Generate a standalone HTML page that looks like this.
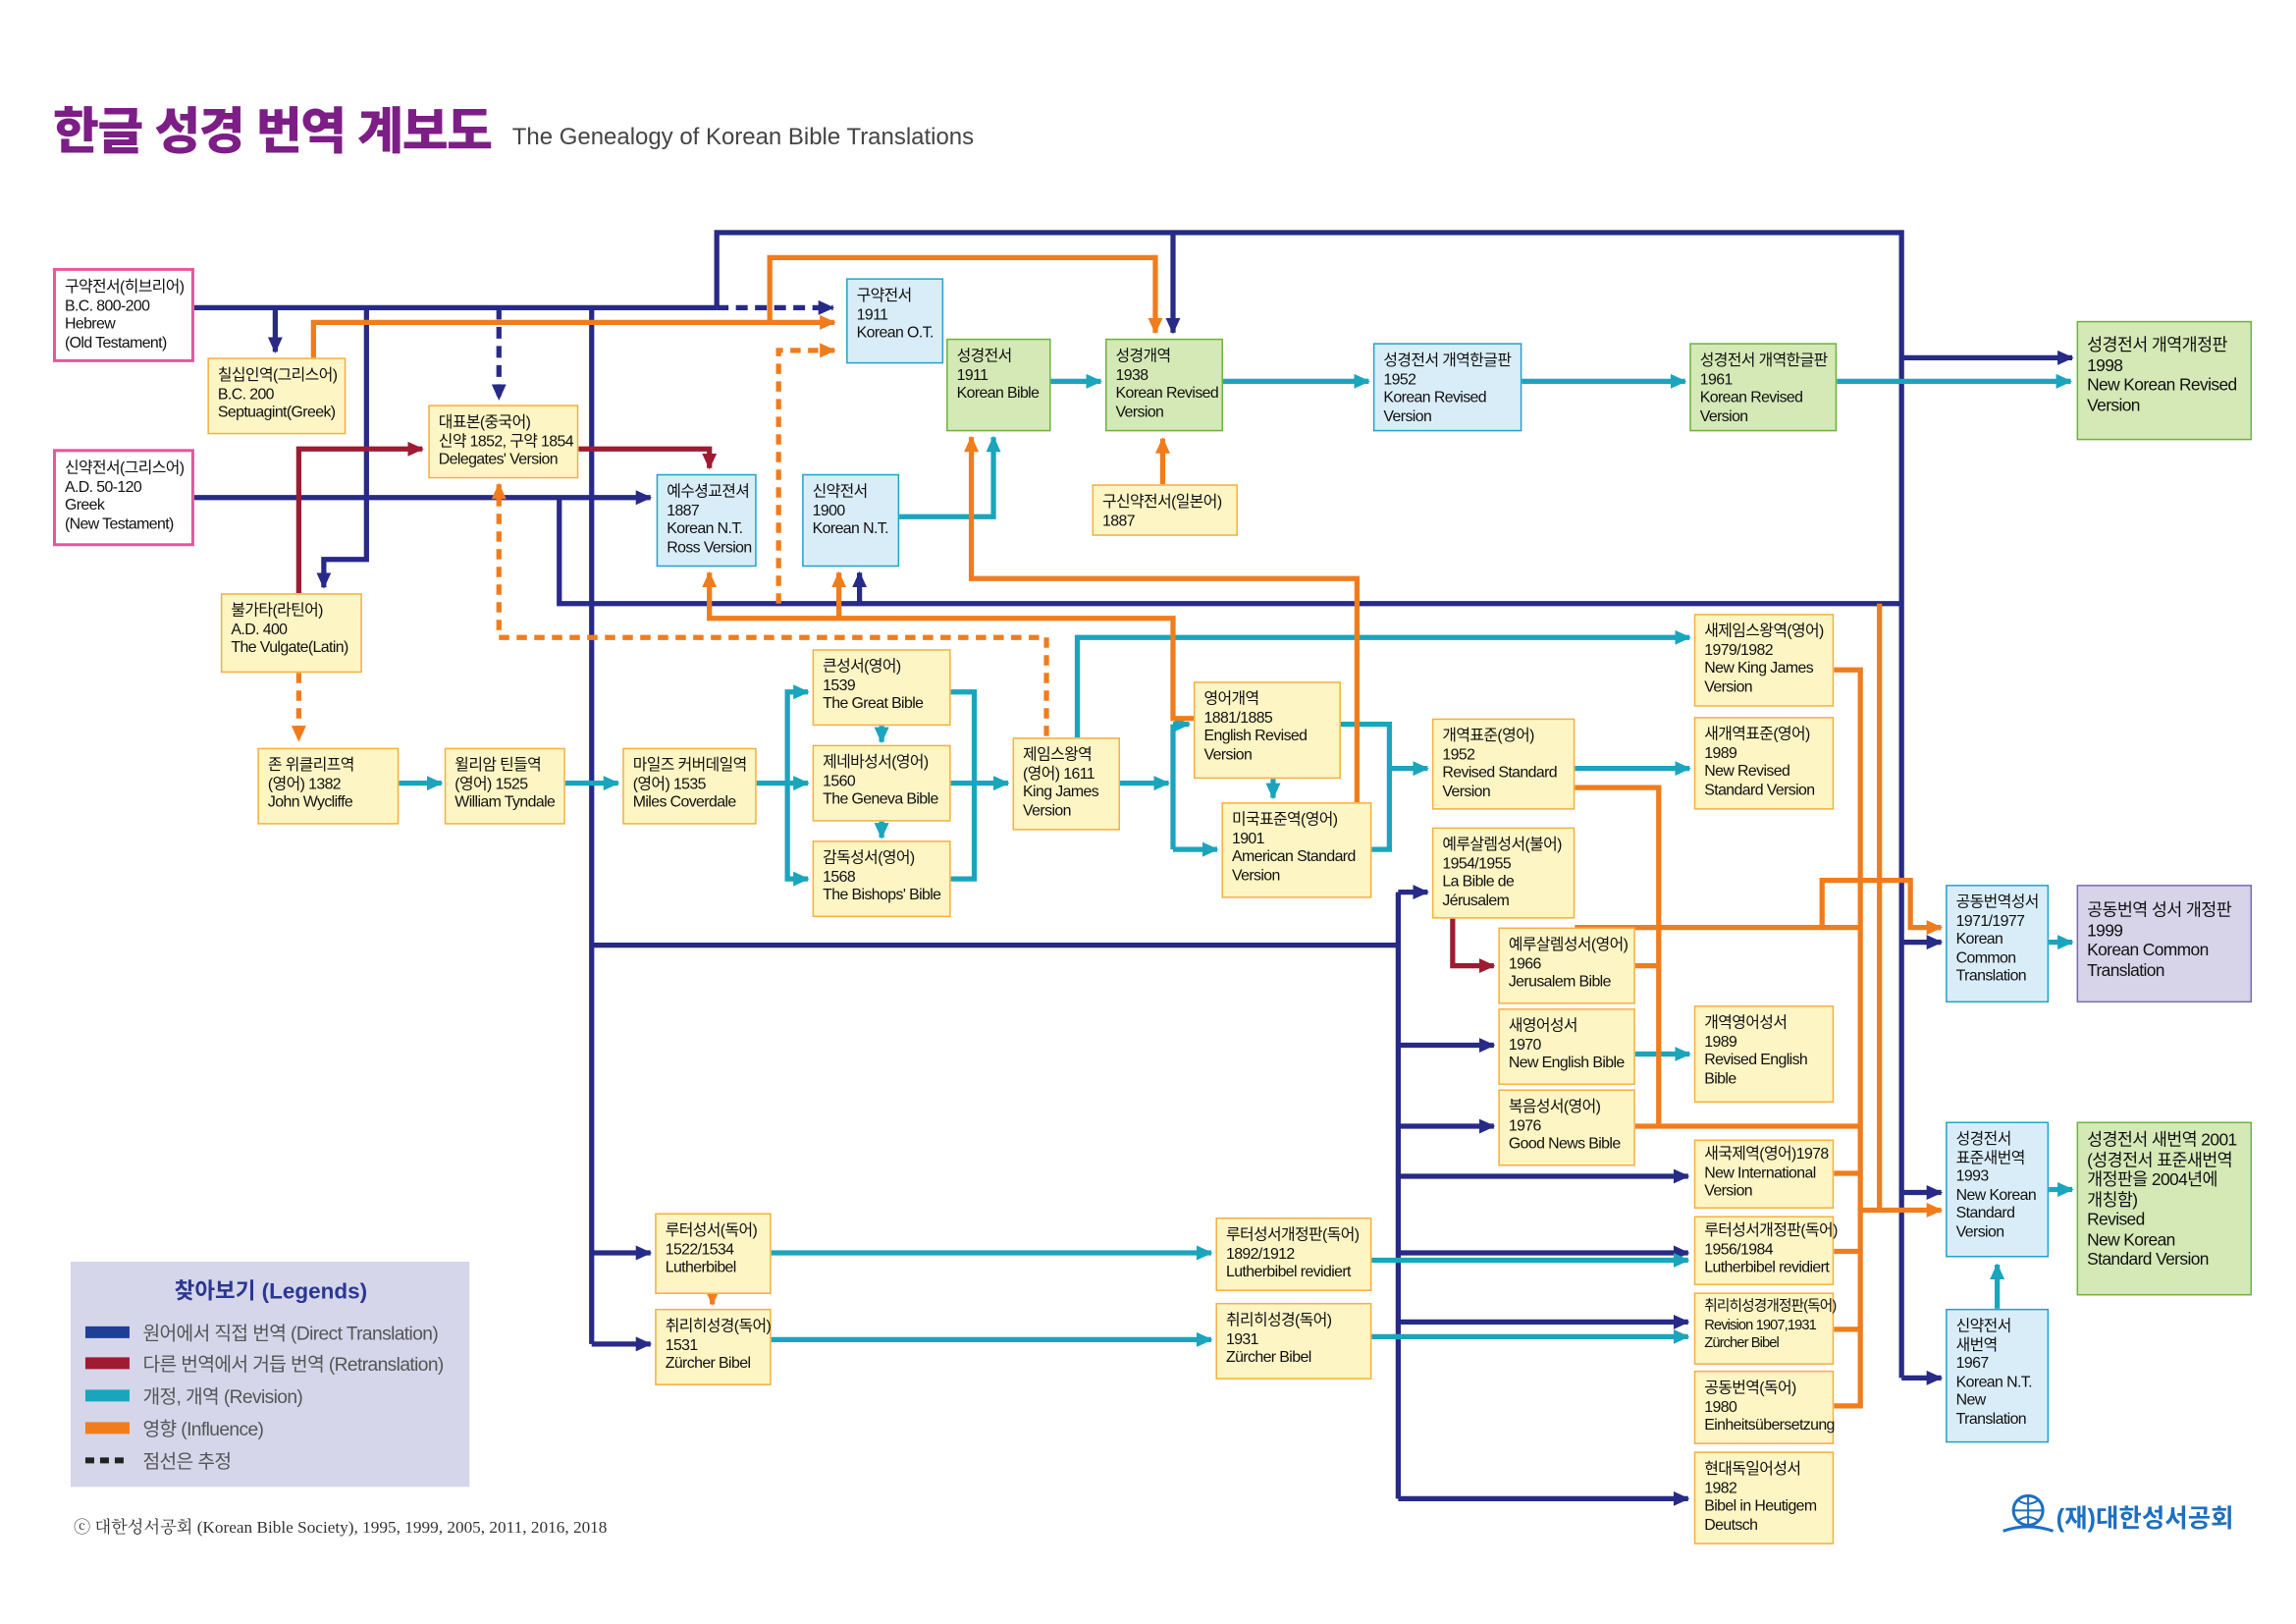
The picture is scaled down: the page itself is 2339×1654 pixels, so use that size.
<!DOCTYPE html>
<html><head><meta charset="utf-8">
<style>
html,body{margin:0;padding:0;background:#fff;}
#wrap{position:relative;width:1560px;height:1103px;transform:scale(1.49936);transform-origin:0 0;font-family:"Liberation Sans","Noto Sans CJK KR",sans-serif;}
svg{position:absolute;left:0;top:0;}
.b{position:absolute;box-sizing:border-box;border:1.5px solid;padding:5px 6px;font-size:10.6px;line-height:12.6px;letter-spacing:-0.4px;color:#111;white-space:nowrap;}
.y{background:#fdf5c4;border-color:#f5b040}
.bl{background:#d9edf9;border-color:#22a3c8}
.g{background:#d5e9b6;border-color:#6db33f}
.p{background:#d7d3e9;border-color:#7a6cb0}
.pk{background:#fff;border:2px solid #e8569b}
.big{font-size:11.6px;line-height:13.5px}
</style></head><body>
<div id="wrap">
<svg width="1560" height="1103" viewBox="0 0 1560 1103">
<defs>
<marker id="aN" markerUnits="userSpaceOnUse" markerWidth="12" markerHeight="12" refX="10" refY="6" orient="auto"><path d="M0,1 L11,6 L0,11 z" fill="#272a86"/></marker>
<marker id="aR" markerUnits="userSpaceOnUse" markerWidth="12" markerHeight="12" refX="10" refY="6" orient="auto"><path d="M0,1 L11,6 L0,11 z" fill="#9e1b32"/></marker>
<marker id="aT" markerUnits="userSpaceOnUse" markerWidth="12" markerHeight="12" refX="10" refY="6" orient="auto"><path d="M0,1 L11,6 L0,11 z" fill="#1aa5bd"/></marker>
<marker id="aO" markerUnits="userSpaceOnUse" markerWidth="12" markerHeight="12" refX="10" refY="6" orient="auto"><path d="M0,1 L11,6 L0,11 z" fill="#f07c1c"/></marker>
</defs>
<text x="36" y="101" font-family="Liberation Sans,Noto Sans CJK KR,sans-serif" font-size="34" font-weight="900" fill="#7d1e86" letter-spacing="-1">한글 성경 번역 계보도</text>
<text x="348" y="98" font-family="Liberation Sans,Noto Sans CJK KR,sans-serif" font-size="16" fill="#444">The Genealogy of Korean Bible Translations</text>

<g fill="none" stroke-width="3.5" stroke-linejoin="miter">
<g stroke="#272a86">
<path d="M132,209 H487"/>
<path d="M487,209 H566" stroke-dasharray="8,5" marker-end="url(#aN)"/>
<path d="M187,209 V239" marker-end="url(#aN)"/>
<path d="M249,209 V380 H220 V399" marker-end="url(#aN)"/>
<path d="M339,209 V271" stroke-dasharray="8,5" marker-end="url(#aN)"/>
<path d="M402,209 V913"/>
<path d="M402,642 H950"/>
<path d="M402,851 H442" marker-end="url(#aN)"/>
<path d="M402,913 H442" marker-end="url(#aN)"/>
<path d="M132,338 H442" marker-end="url(#aN)"/>
<path d="M380,338 V410 H1292"/>
<path d="M584,410 V389" marker-end="url(#aN)"/>
<path d="M487,209 V158 H1292 V936"/>
<path d="M797,158 V226" marker-end="url(#aN)"/>
<path d="M1292,243 H1408" marker-end="url(#aN)"/>
<path d="M1292,640 H1319" marker-end="url(#aN)"/>
<path d="M1292,810 H1319" marker-end="url(#aN)"/>
<path d="M1292,936 H1319" marker-end="url(#aN)"/>
<path d="M950,606 V1018"/>
<path d="M950,606 H970" marker-end="url(#aN)"/>
<path d="M950,710 H1015" marker-end="url(#aN)"/>
<path d="M950,765 H1015" marker-end="url(#aN)"/>
<path d="M950,799 H1147" marker-end="url(#aN)"/>
<path d="M950,851 H1147" marker-end="url(#aN)"/>
<path d="M950,898 H1147" marker-end="url(#aN)"/>
<path d="M950,1018 H1147" marker-end="url(#aN)"/>
</g>
<g stroke="#9e1b32">
<path d="M203,403 V305 H287" marker-end="url(#aR)"/>
<path d="M393,305 H482 V318" marker-end="url(#aR)"/>
<path d="M987,624 V656 H1015" marker-end="url(#aR)"/>
</g>
<g stroke="#1aa5bd">
<path d="M714,259 H748" marker-end="url(#aT)"/>
<path d="M831,259 H930" marker-end="url(#aT)"/>
<path d="M1034,259 H1145" marker-end="url(#aT)"/>
<path d="M1248,259 H1407" marker-end="url(#aT)"/>
<path d="M611,351 H675 V297" marker-end="url(#aT)"/>
<path d="M271,532 H300" marker-end="url(#aT)"/>
<path d="M384,532 H420" marker-end="url(#aT)"/>
<path d="M514,532 H549" marker-end="url(#aT)"/>
<path d="M535,532 V470 H549" marker-end="url(#aT)"/>
<path d="M535,532 V597 H549" marker-end="url(#aT)"/>
<path d="M599,493 V504" marker-end="url(#aT)"/>
<path d="M599,558 V569" marker-end="url(#aT)"/>
<path d="M646,470 H662 V597 H646"/>
<path d="M646,532 H685" marker-end="url(#aT)"/>
<path d="M761,532 H794" marker-end="url(#aT)"/>
<path d="M797,492 V577"/>
<path d="M797,492 H808" marker-end="url(#aT)"/>
<path d="M797,577 H827" marker-end="url(#aT)"/>
<path d="M732,501 V433 H1148" marker-end="url(#aT)"/>
<path d="M865,529 V542" marker-end="url(#aT)"/>
<path d="M911,492 H944 V577 H932"/>
<path d="M944,522 H970" marker-end="url(#aT)"/>
<path d="M1070,522 H1148" marker-end="url(#aT)"/>
<path d="M1111,716 H1148" marker-end="url(#aT)"/>
<path d="M1392,640 H1408" marker-end="url(#aT)"/>
<path d="M1392,808 H1408" marker-end="url(#aT)"/>
<path d="M1357,889 V859" marker-end="url(#aT)"/>
<path d="M524,851 H823" marker-end="url(#aT)"/>
<path d="M932,856 H1147" marker-end="url(#aT)"/>
<path d="M524,910 H823" marker-end="url(#aT)"/>
<path d="M932,908 H1147" marker-end="url(#aT)"/>
</g>
<g stroke="#f07c1c">
<path d="M213,243 V219 H567" marker-end="url(#aO)"/>
<path d="M523,219 V175 H785 V226" marker-end="url(#aO)"/>
<path d="M529,410 V238 H567" stroke-dasharray="7,5" marker-end="url(#aO)"/>
<path d="M711,500 V433 H339 V329" stroke-dasharray="7,5" marker-end="url(#aO)"/>
<path d="M811,488 H797 V420 H482 V389" marker-end="url(#aO)"/>
<path d="M570,420 V389" marker-end="url(#aO)"/>
<path d="M790,329 V298" marker-end="url(#aO)"/>
<path d="M922,545 V393 H660 V297" marker-end="url(#aO)"/>
<path d="M203,457 V503" stroke-dasharray="7,5" marker-end="url(#aO)"/>
<path d="M484,879 V886" marker-end="url(#aO)"/>
<path d="M1070,535 H1127 V765"/>
<path d="M1111,656 H1127"/>
<path d="M1070,630 H1238 V598 H1298 V630 H1319" marker-end="url(#aO)"/>
<path d="M1246,455 H1264 V955 H1246"/>
<path d="M1111,765 H1264"/>
<path d="M1246,797 H1264"/>
<path d="M1246,850 H1264"/>
<path d="M1246,903 H1264"/>
<path d="M1277,410 V822"/>
<path d="M1264,822 H1319" marker-end="url(#aO)"/>
<path d="M1238,630 H1264"/>
</g>
</g>
<rect x="48" y="857" width="271" height="153" fill="#d5d6ea"/>
<text x="184" y="882" text-anchor="middle" font-family="Liberation Sans,Noto Sans CJK KR,sans-serif" font-size="15" font-weight="bold" fill="#2a3790">찾아보기 (Legends)</text>
<g stroke-width="8"><line x1="58" y1="905" x2="88" y2="905" stroke="#1f3f97"/><line x1="58" y1="926" x2="88" y2="926" stroke="#9e1b32"/><line x1="58" y1="948" x2="88" y2="948" stroke="#1aa5bd"/><line x1="58" y1="970" x2="88" y2="970" stroke="#f07c1c"/></g>
<line x1="58" y1="992" x2="88" y2="992" stroke="#222" stroke-width="4" stroke-dasharray="6,4"/>
<g font-family="Liberation Sans,Noto Sans CJK KR,sans-serif" font-size="12.8" fill="#555" letter-spacing="-0.4">
<text x="97" y="910">원어에서 직접 번역 (Direct Translation)</text>
<text x="97" y="931">다른 번역에서 거듭 번역 (Retranslation)</text>
<text x="97" y="953">개정, 개역 (Revision)</text>
<text x="97" y="975">영향 (Influence)</text>
<text x="97" y="997">점선은 추정</text>
</g>
<text x="50" y="1041" font-family="Liberation Serif,Noto Serif CJK SC,serif" font-size="11.5" fill="#333">ⓒ  대한성서공회 (Korean Bible Society), 1995, 1999, 2005, 2011, 2016, 2018</text>
<circle cx="1378" cy="1026" r="10" fill="none" stroke="#1d6fc0" stroke-width="2"/>
<path d="M1368,1026 H1388 M1378,1016 V1036 M1371,1019 Q1378,1024 1385,1019 M1371,1033 Q1378,1028 1385,1033" stroke="#1d6fc0" stroke-width="1.3" fill="none"/>
<path d="M1361,1040 Q1378,1034 1395,1040" stroke="#1d6fc0" stroke-width="2" fill="none"/>
<text x="1397" y="1037" font-family="Liberation Sans,Noto Sans CJK KR,sans-serif" font-size="17" font-weight="bold" fill="#1d6fc0">(재)대한성서공회</text>
</svg>

<div class="b pk" style="left:36px;top:182px;width:96px;height:64px;">구약전서(히브리어)<br>B.C. 800-200<br>Hebrew<br>(Old Testament)</div>
<div class="b y" style="left:141px;top:243px;width:94px;height:52px;">칠십인역(그리스어)<br>B.C. 200<br>Septuagint(Greek)</div>
<div class="b pk" style="left:36px;top:305px;width:96px;height:66px;">신약전서(그리스어)<br>A.D. 50-120<br>Greek<br>(New Testament)</div>
<div class="b y" style="left:150px;top:403px;width:96px;height:54px;">불가타(라틴어)<br>A.D. 400<br>The Vulgate(Latin)</div>
<div class="b y" style="left:291px;top:275px;width:102px;height:50px;">대표본(중국어)<br>신약 1852, 구약 1854<br>Delegates' Version</div>
<div class="b bl" style="left:575px;top:189px;width:66px;height:58px;">구약전서<br>1911<br>Korean O.T.</div>
<div class="b g" style="left:643px;top:230px;width:71px;height:63px;">성경전서<br>1911<br>Korean Bible</div>
<div class="b g" style="left:751px;top:230px;width:80px;height:63px;">성경개역<br>1938<br>Korean Revised<br>Version</div>
<div class="b y" style="left:742px;top:329px;width:99px;height:35px;">구신약전서(일본어)<br>1887</div>
<div class="b bl" style="left:933px;top:233px;width:101px;height:60px;">성경전서 개역한글판<br>1952<br>Korean Revised<br>Version</div>
<div class="b g" style="left:1148px;top:233px;width:100px;height:60px;">성경전서 개역한글판<br>1961<br>Korean Revised<br>Version</div>
<div class="b g big" style="left:1411px;top:218px;width:119px;height:81px;padding-top:9px;">성경전서 개역개정판<br>1998<br>New Korean Revised<br>Version</div>
<div class="b bl" style="left:446px;top:322px;width:68px;height:63px;">예수셩교젼셔<br>1887<br>Korean N.T.<br>Ross Version</div>
<div class="b bl" style="left:545px;top:322px;width:66px;height:63px;">신약전서<br>1900<br>Korean N.T.</div>
<div class="b y" style="left:175px;top:508px;width:96px;height:52px;">존 위클리프역<br>(영어) 1382<br>John Wycliffe</div>
<div class="b y" style="left:302px;top:508px;width:82px;height:52px;">윌리암 틴들역<br>(영어) 1525<br>William Tyndale</div>
<div class="b y" style="left:423px;top:508px;width:91px;height:52px;">마일즈 커버데일역<br>(영어) 1535<br>Miles Coverdale</div>
<div class="b y" style="left:552px;top:441px;width:94px;height:52px;">큰성서(영어)<br>1539<br>The Great Bible</div>
<div class="b y" style="left:552px;top:506px;width:94px;height:52px;">제네바성서(영어)<br>1560<br>The Geneva Bible</div>
<div class="b y" style="left:552px;top:571px;width:94px;height:52px;">감독성서(영어)<br>1568<br>The Bishops' Bible</div>
<div class="b y" style="left:688px;top:501px;width:73px;height:63px;">제임스왕역<br>(영어) 1611<br>King James<br>Version</div>
<div class="b y" style="left:811px;top:463px;width:100px;height:66px;">영어개역<br>1881/1885<br>English Revised<br>Version</div>
<div class="b y" style="left:830px;top:545px;width:102px;height:65px;">미국표준역(영어)<br>1901<br>American Standard<br>Version</div>
<div class="b y" style="left:973px;top:488px;width:97px;height:62px;">개역표준(영어)<br>1952<br>Revised Standard<br>Version</div>
<div class="b y" style="left:1151px;top:417px;width:95px;height:63px;">새제임스왕역(영어)<br>1979/1982<br>New King James<br>Version</div>
<div class="b y" style="left:1151px;top:487px;width:95px;height:63px;">새개역표준(영어)<br>1989<br>New Revised<br>Standard Version</div>
<div class="b y" style="left:973px;top:562px;width:97px;height:62px;">예루살렘성서(불어)<br>1954/1955<br>La Bible de<br>Jérusalem</div>
<div class="b y" style="left:1018px;top:630px;width:93px;height:52px;">예루살렘성서(영어)<br>1966<br>Jerusalem Bible</div>
<div class="b y" style="left:1018px;top:685px;width:93px;height:52px;">새영어성서<br>1970<br>New English Bible</div>
<div class="b y" style="left:1018px;top:740px;width:93px;height:52px;">복음성서(영어)<br>1976<br>Good News Bible</div>
<div class="b y" style="left:1151px;top:683px;width:95px;height:66px;">개역영어성서<br>1989<br>Revised English<br>Bible</div>
<div class="b y" style="left:1151px;top:774px;width:95px;height:47px;padding-top:3px;">새국제역(영어)1978<br>New International<br>Version</div>
<div class="b y" style="left:1151px;top:826px;width:95px;height:47px;padding-top:3px;">루터성서개정판(독어)<br>1956/1984<br>Lutherbibel revidiert</div>
<div class="b y" style="left:1151px;top:878px;width:95px;height:49px;padding-top:3px;font-size:9.8px;letter-spacing:-0.6px;">취리히성경개정판(독어)<br>Revision 1907,1931<br>Zürcher Bibel</div>
<div class="b y" style="left:1151px;top:931px;width:95px;height:50px;">공동번역(독어)<br>1980<br>Einheitsübersetzung</div>
<div class="b y" style="left:1151px;top:986px;width:95px;height:63px;">현대독일어성서<br>1982<br>Bibel in Heutigem<br>Deutsch</div>
<div class="b y" style="left:445px;top:824px;width:79px;height:55px;">루터성서(독어)<br>1522/1534<br>Lutherbibel</div>
<div class="b y" style="left:445px;top:889px;width:79px;height:52px;">취리히성경(독어)<br>1531<br>Zürcher Bibel</div>
<div class="b y" style="left:826px;top:827px;width:106px;height:50px;">루터성서개정판(독어)<br>1892/1912<br>Lutherbibel revidiert</div>
<div class="b y" style="left:826px;top:885px;width:106px;height:52px;">취리히성경(독어)<br>1931<br>Zürcher Bibel</div>
<div class="b bl" style="left:1322px;top:601px;width:70px;height:80px;">공동번역성서<br>1971/1977<br>Korean<br>Common<br>Translation</div>
<div class="b p big" style="left:1411px;top:601px;width:119px;height:80px;padding-top:10px;">공동번역 성서 개정판<br>1999<br>Korean Common<br>Translation</div>
<div class="b bl" style="left:1322px;top:762px;width:70px;height:92px;">성경전서<br>표준새번역<br>1993<br>New Korean<br>Standard<br>Version</div>
<div class="b g big" style="left:1411px;top:762px;width:119px;height:118px;">성경전서 새번역 2001<br>(성경전서 표준새번역<br>개정판을 2004년에<br>개칭함)<br>Revised<br>New Korean<br>Standard Version</div>
<div class="b bl" style="left:1322px;top:889px;width:70px;height:91px;">신약전서<br>새번역<br>1967<br>Korean N.T.<br>New<br>Translation</div>
</div>
</body></html>
